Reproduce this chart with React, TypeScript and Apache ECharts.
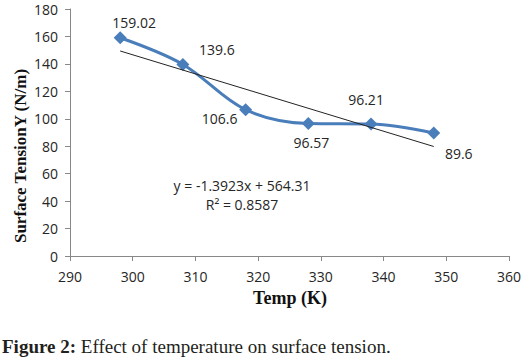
import React, { useEffect, useRef } from "react";
import * as echarts from "echarts";

const temps = [298, 308, 318, 328, 338, 348];
const tension = [159.02, 139.6, 106.6, 96.57, 96.21, 89.6];
const labelTexts = ["159.02", "139.6", "106.6", "96.57", "96.21", "89.6"];
const trendSlope = -1.3923;
const trendIntercept = 564.31;
const trendText = "y = -1.3923x + 564.31";
const r2Value = "0.8587";

const labelOffsets: [number, number][] = [
  [14, -15],
  [34, -15],
  [-26, 9],
  [3, 19],
  [-5, -24],
  [25, 20],
];

export default function App() {
  const ref = useRef<HTMLDivElement>(null);
  useEffect(() => {
    if (!ref.current) return;
    const chart = echarts.init(ref.current, null, { renderer: "svg" });
    const tickFont = { fontFamily: "Open Sans", fontSize: 14, color: "#262626" };
    const seriesData = temps.map((t, i) => ({
      value: [t, tension[i]],
      label: {
        show: true,
        position: "inside",
        offset: labelOffsets[i],
        formatter: labelTexts[i],
        ...tickFont,
      },
    }));
    const trendX = [temps[0], temps[temps.length - 1]];
    const trendData = trendX.map((x) => [x, trendSlope * x + trendIntercept]);
    chart.setOption({
      animation: false,
      grid: { left: 70, right: 17, top: 9, bottom: 103, containLabel: false },
      xAxis: {
        type: "value",
        min: 290,
        max: 360,
        interval: 10,
        axisLine: { show: true, lineStyle: { color: "#888", width: 1 } },
        axisTick: { show: true, length: 5, lineStyle: { color: "#888" } },
        axisLabel: { ...tickFont, margin: 13 },
        splitLine: { show: false },
      },
      yAxis: {
        type: "value",
        min: 0,
        max: 180,
        interval: 20,
        axisLine: { show: true, lineStyle: { color: "#888", width: 1 } },
        axisTick: { show: true, length: 5, lineStyle: { color: "#888" } },
        axisLabel: { ...tickFont, margin: 12 },
        splitLine: { show: false },
      },
      series: [
        {
          type: "line",
          data: trendData,
          symbol: "none",
          lineStyle: { color: "#222", width: 1 },
          z: 3,
        },
        {
          type: "line",
          data: seriesData,
          smooth: 0.35,
          symbol: "diamond",
          symbolSize: 13,
          itemStyle: { color: "#4a7ebb" },
          lineStyle: { color: "#4a7ebb", width: 3 },
          z: 2,
        },
      ],
      graphic: [
        {
          type: "text",
          x: 242,
          y: 185,
          style: {
            text: trendText,
            font: "14px 'Open Sans'",
            fill: "#262626",
            align: "center",
            verticalAlign: "middle",
          },
        },
        {
          type: "text",
          x: 242,
          y: 204,
          style: {
            text: "R² = " + r2Value,
            font: "14px 'Open Sans'",
            fill: "#262626",
            align: "center",
            verticalAlign: "middle",
          },
        },
        {
          type: "text",
          x: 20,
          y: 156,
          rotation: Math.PI / 2,
          style: {
            text: "Surface TensionY (N/m)",
            font: "bold 17px 'Liberation Serif'",
            fill: "#111",
            align: "center",
            verticalAlign: "middle",
          },
        },
        {
          type: "text",
          x: 290,
          y: 298,
          style: {
            text: "Temp (K)",
            font: "bold 18px 'Liberation Serif'",
            fill: "#111",
            align: "center",
            verticalAlign: "middle",
          },
        },
        {
          type: "text",
          x: 2,
          y: 346,
          style: {
            text: "{b|Figure 2:} Effect of temperature on surface tension.",
            font: "19px 'Liberation Serif'",
            fill: "#231f20",
            align: "left",
            verticalAlign: "middle",
            rich: {
              b: { font: "bold 19px 'Liberation Serif'", fill: "#231f20" },
            },
          },
        },
      ],
    });
    return () => chart.dispose();
  }, []);
  return (
    <div
      ref={ref}
      style={{ position: "fixed", left: 0, top: 0, width: 526, height: 359, background: "#fff" }}
    />
  );
}
